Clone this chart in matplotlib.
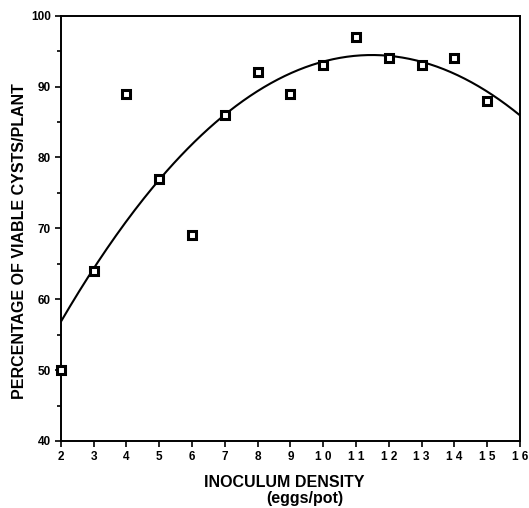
import matplotlib
matplotlib.use("Agg")
import matplotlib.pyplot as plt
import numpy as np
from matplotlib.ticker import MultipleLocator

plt.rcParams["font.family"] = ["Liberation Sans", "DejaVu Sans"]

# inoculum density (eggs/pot) and percentage of viable cysts per plant
density = [2, 3, 4, 5, 6, 7, 8, 9, 10, 11, 12, 13, 14, 15]
viable_pct = [50, 64, 89, 77, 69, 86, 92, 89, 93, 97, 94, 93, 94, 88]

x_ticks = list(range(2, 17))
x_tick_labels = [" ".join(str(v)) for v in x_ticks]
y_ticks = [40, 50, 60, 70, 80, 90, 100]

fig = plt.figure(figsize=(5.29, 5.08), dpi=100)
ax = fig.add_axes([0.115, 0.132, 0.868, 0.837])

# quadratic fit through the observations
coef = np.polyfit(density, viable_pct, 2)
xs = np.linspace(2, 16, 200)
ax.plot(xs, np.polyval(coef, xs), color="black", linewidth=1.5)

ax.plot(density, viable_pct, linestyle="none", marker="s", markersize=5.5,
        markerfacecolor="white", markeredgecolor="black", markeredgewidth=2.2,
        clip_on=False, zorder=3)

ax.set_xlim(2, 16)
ax.set_ylim(40, 100)
ax.set_xticks(x_ticks)
ax.set_xticklabels(x_tick_labels)
ax.set_yticks(y_ticks)
ax.yaxis.set_minor_locator(MultipleLocator(5))
ax.tick_params(axis="both", which="both", direction="out", width=1.2)
ax.tick_params(axis="both", which="major", length=4, labelsize=8.5, pad=3)
ax.tick_params(axis="both", which="minor", length=3)
for lab in ax.get_xticklabels() + ax.get_yticklabels():
    lab.set_fontweight("bold")
for sp in ax.spines.values():
    sp.set_linewidth(1.4)

fig.text(0.036, 0.526, "PERCENTAGE OF VIABLE CYSTS/PLANT", rotation=90,
         ha="center", va="center", fontsize=11.5, fontweight="bold")
fig.text(0.537, 0.051, "INOCULUM DENSITY", ha="center", va="center",
         fontsize=11.5, fontweight="bold")
fig.text(0.577, 0.019, "(eggs/pot)", ha="center", va="center",
         fontsize=11.5, fontweight="bold")

fig.savefig("out.png", dpi=100)
